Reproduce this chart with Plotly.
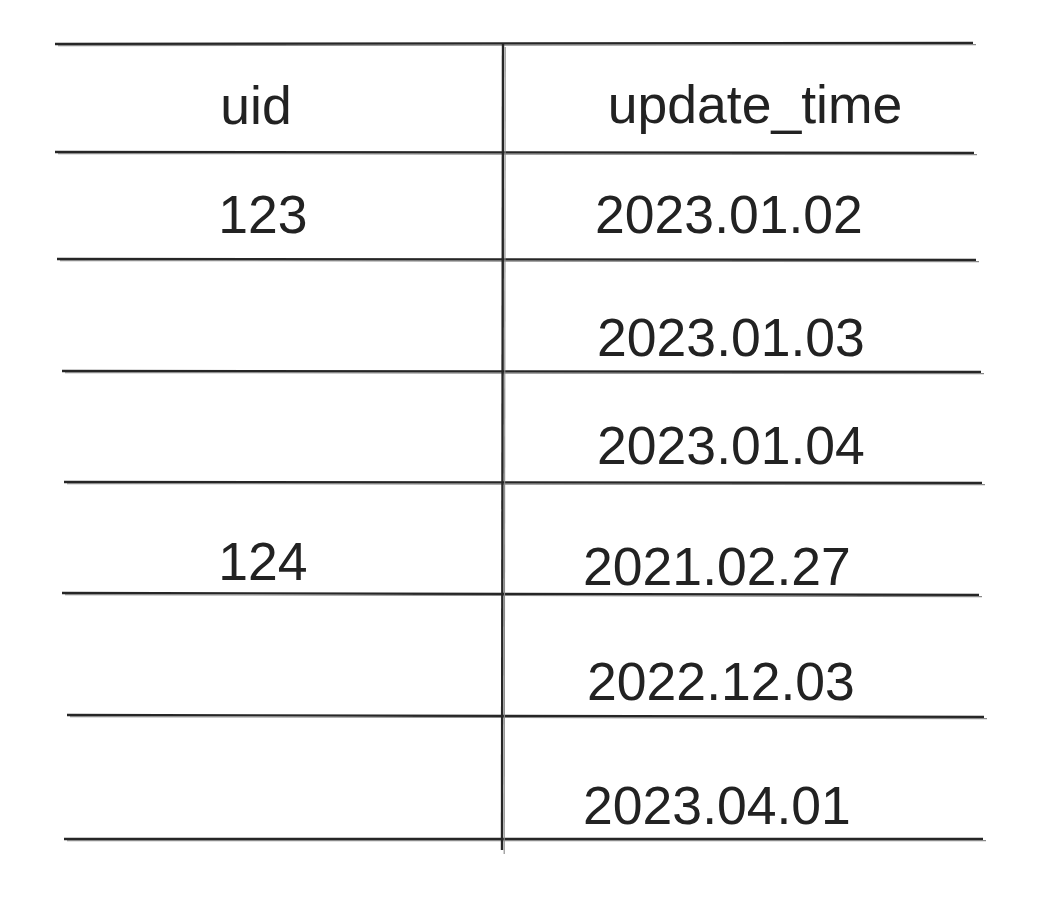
import plotly.graph_objects as go

# table content
headers = ["uid", "update_time"]
uid = ["123", "", "", "124", "", ""]
update_time = ["2023.01.02", "2023.01.03", "2023.01.04",
               "2021.02.27", "2022.12.03", "2023.04.01"]

# hand-drawn layout (canvas is 1039 x 903, y grows downward)
header_xy = [(256, 111), (755, 110)]
uid_xy = [(263, 220), None, None, (263, 567), None, None]
time_xy = [(729, 220), (731, 343), (731, 451),
           (717, 572), (721, 687), (717, 811)]

# horizontal rules: (x0, y0, x1, y1), slightly wobbly like the sketch
h_rules = [
    (55, 44, 973, 43),
    (55, 152, 974, 153),
    (57, 259, 976, 260),
    (62, 371, 981, 372),
    (64, 482, 982, 483),
    (62, 593, 979, 595),
    (67, 715, 984, 717),
    (64, 839, 983, 839),
]
v_rule = (503, 43, 502, 850)

INK = "#262626"
FONT = "Liberation Sans, Arial, sans-serif"
PAGE_PAD = 8  # default body margin of the html page

fig = go.Figure()


def sketch_line(x0, y0, x1, y1, offset):
    # main stroke
    fig.add_trace(go.Scatter(x=[x0, x1], y=[y0, y1], mode="lines",
                             line=dict(color=INK, width=2.4),
                             hoverinfo="skip", showlegend=False))
    # faint second pass to look hand drawn
    dx, dy = offset
    fig.add_trace(go.Scatter(x=[x0 + dx, x1 + dx], y=[y0 + dy, y1 + dy], mode="lines",
                             line=dict(color="#8a8a8a", width=1.1),
                             hoverinfo="skip", showlegend=False))


for x0, y0, x1, y1 in h_rules:
    sketch_line(x0, y0, x1, y1, (3, 1.6))
sketch_line(*v_rule, (2.2, 4))

# cell texts
xs, ys, texts = [], [], []
for t, p in zip(headers, header_xy):
    xs.append(p[0]); ys.append(p[1]); texts.append(t)
for t, p in zip(uid, uid_xy):
    if t and p:
        xs.append(p[0]); ys.append(p[1]); texts.append(t)
for t, p in zip(update_time, time_xy):
    xs.append(p[0]); ys.append(p[1]); texts.append(t)

fig.add_trace(go.Scatter(x=xs, y=ys, text=texts, mode="text",
                         textposition="middle center",
                         textfont=dict(family=FONT, size=53.5, color="#222222"),
                         hoverinfo="skip", showlegend=False))

fig.update_layout(
    width=1039 - PAGE_PAD, height=903 - PAGE_PAD,
    margin=dict(l=0, r=0, t=0, b=0),
    paper_bgcolor="white", plot_bgcolor="white",
    xaxis=dict(range=[PAGE_PAD, 1039], visible=False, fixedrange=True),
    yaxis=dict(range=[903, PAGE_PAD], visible=False, fixedrange=True),
)

fig.write_html("out.html", config={"displayModeBar": False})
